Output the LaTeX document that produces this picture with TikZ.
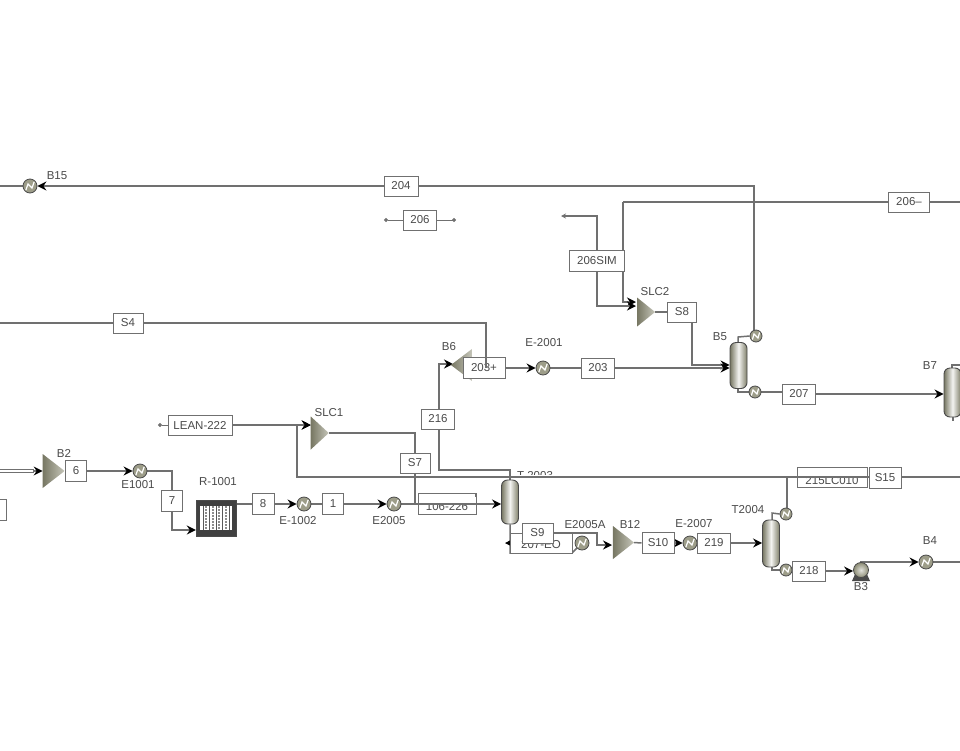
\documentclass[tikz,border=0pt]{standalone}
\usepackage{fontspec}
\setmainfont{Liberation Sans}
\usetikzlibrary{arrows.meta,shapes.geometric,calc}
\pgfdeclarelayer{bg}
\pgfsetlayers{bg,main}
\definecolor{ln}{HTML}{707070}
\definecolor{tx}{HTML}{4A4A4A}
\definecolor{eq}{HTML}{8C8C74}
\tikzset{
  x=1pt,y=-1pt,
  flow/.style={draw=ln,line width=1.5pt,line join=miter},
  arr/.style={flow,-{Stealth[black,length=9pt,width=9pt,inset=3pt]}},
  endl/.style={flow,line width=1pt,-{Circle[ln,length=4pt]}},
  stream/.style={draw=ln,line width=1pt,fill=white,text=tx,minimum height=20pt,minimum width=#1,inner sep=0pt,font=\fontsize{11.5}{13}\selectfont},
  stream/.default=32pt,
  lab/.style={text=tx,inner sep=0pt,font=\fontsize{11.5}{13}\selectfont},
  hx/.style={circle,draw=tx,line width=.8pt,fill=eq!85!white,minimum size=#1,inner sep=0pt,
    path picture={\draw[white,line width=1.2pt]
      ($(path picture bounding box.south west)!.2!(path picture bounding box.north east)$)
      -- ($(path picture bounding box.center)+(-2,-2)$)
      -- ($(path picture bounding box.center)+(2,2)$)
      -- ($(path picture bounding box.south west)!.8!(path picture bounding box.north east)$);}},
  hx/.default=14pt,
  pumpbody/.style={circle,draw=tx,line width=.8pt,inner color=eq!25!white,outer color=eq,minimum size=15pt,inner sep=0pt},
  col/.style={rectangle,rounded corners=6pt,draw=tx,line width=.9pt,left color=eq!85!black,right color=eq!90!black,middle color=eq!10!white,minimum width=#1,inner sep=0pt},
  tri/.style={isosceles triangle,isosceles triangle stretches,draw=none,inner sep=0pt,outer sep=0pt,
    shape border rotate=#1,left color=eq!85!black,right color=eq!50!white},
}
\begin{document}
\begin{tikzpicture}
\useasboundingbox (0,0) rectangle (960,750);

% --- equipment
\node[hx] (B15) at (30,186) {};
\node[lab] (lB15) at (57,176) {B15};
\node[tri=0,minimum height=22pt,minimum width=34pt] (B2) at (51,471) {};
\node[lab] (lB2) at (64,453) {B2};
\node[hx] (E1001) at (140,471) {};
\node[lab] (lE1001) at (138,485) {E1001};
\node[rectangle,draw=tx,fill=black!75,minimum width=40pt,minimum height=36pt,inner sep=0pt,
  path picture={
    \fill[white] (-16,-12) rectangle (16,12);
    \foreach \xa in {-13,-6.5,0,6.5,13}{\draw[black!65,line width=1pt] (\xa,-12) -- (\xa,12);}
    \foreach \xa in {-10,-3.2,3.2,10}{\draw[black!45,line width=2.2pt,dash pattern=on 1.5pt off 1.5pt] (\xa,-12) -- (\xa,12);}
  }] (R1001) at (216,518) {};
\node[lab] (lR1001) at (218,482) {R-1001};
\node[hx] (E1002) at (304,504) {};
\node[lab] (lE1002) at (298,521) {E-1002};
\node[hx] (E2005) at (394,504) {};
\node[lab] (lE2005) at (389,521) {E2005};
\node[tri=0,minimum height=18pt,minimum width=33pt] (SLC1) at (318,433) {};
\node[lab] (lSLC1) at (329,413) {SLC1};
\node[tri=0,minimum height=18pt,minimum width=29pt] (SLC2) at (644,312) {};
\node[lab] (lSLC2) at (655,292) {SLC2};
\node[hx] (E2001) at (543,368) {};
\node[lab] (lE2001) at (544,343) {E-2001};
\node[lab] (lB6) at (449,347) {B6};
\node[tri=180,minimum height=21pt,minimum width=32pt] (B6) at (464,365) {};
\node[col=17pt,minimum height=46pt] (B5) at (738.5,365.5) {};
\node[lab] (lB5) at (720,337) {B5};
\node[hx=12pt] (B5c) at (756,336) {};
\node[hx=12pt] (B5r) at (755,392) {};
\node[col=17pt,minimum height=49pt] (B7) at (952.5,392.5) {};
\node[lab] (lB7) at (930,366) {B7};
\node[lab] (lT2003) at (535,476) {T-2003};
\fill[white] (519,475) rectangle (562,484);
\node[col=17pt,minimum height=44pt] (T2003) at (510,502) {};
\node[hx] (E2005A) at (582,543) {};
\node[lab] (lE2005A) at (585,525) {E2005A};
\node[tri=0,minimum height=21pt,minimum width=33pt] (B12) at (621,542.5) {};
\node[lab] (lB12) at (630,524) {B12};
\node[hx] (E2007) at (690,543) {};
\node[lab] (lE2007) at (694,524) {E-2007};
\node[col=17pt,minimum height=47pt] (T2004) at (771,543.5) {};
\node[lab] (lT2004) at (748,510) {T2004};
\node[hx=12pt] (T4c) at (786,514) {};
\node[hx=12pt] (T4r) at (786,570) {};
\fill[tx] (852,581) -- (870,581) -- (866,572) -- (856,572) -- cycle;
\node[pumpbody] (B3) at (861,570) {};
\node[lab] (lB3) at (861,587) {B3};
\node[hx] (B4) at (926,562) {};
\node[lab] (lB4) at (930,541) {B4};

% --- free ends
\coordinate (wB15) at (0,186);
\coordinate (wS4) at (0,323);
\coordinate (e206m) at (909,202);
\coordinate (eS15) at (960,477);
\coordinate (eB4) at (960,562);
\coordinate (d206l) at (384,220);
\coordinate (d206r) at (456,220);
\coordinate (dSIM) at (561,216);
\coordinate (dLEAN) at (158,425);
\coordinate (wB2) at (0,471);

% --- stream boxes
\node[stream=34pt] (s204) at (401,186) {204};
\node[stream=33pt] (s206) at (420,220) {206};
\node[stream=41pt] (s206m) at (909,202) {206--};
\node[stream=55pt,minimum height=21pt] (s206SIM) at (597,261) {206SIM};
\node[stream=29pt] (sS8) at (682,312) {S8};
\node[stream=30pt] (sS4) at (128,323) {S4};
\node[stream=33pt] (s203) at (598,368) {203};
\node[stream=33pt] (s207) at (799,394) {207};
\node[stream=33pt] (s216) at (438,419) {216};
\node[stream=64pt] (sLEAN) at (200,425) {LEAN-222};
\node[stream=30pt] (sS7) at (415,463) {S7};
\node[stream=21pt,minimum height=21pt] (s6) at (76,471) {6};
\node[stream=21pt,minimum height=21pt] (s7) at (172,501) {7};
\node[stream=22pt,minimum height=21pt] (s8) at (263,504) {8};
\node[stream=21pt,minimum height=21pt] (s1) at (333,504) {1};
\node[stream=21pt,minimum height=21pt] (sLeft) at (-4,510) {};
\node[stream=32pt,minimum height=21pt] (sS10) at (658,543) {S10};
\node[stream=33pt] (s219) at (714,543) {219};
\node[stream=33pt] (s218) at (809,571) {218};
\node[stream=58pt,minimum height=21pt] (s106) at (447,503.5) {};
\node[lab] (t106) at (447,507) {106-226};
\fill[white] (419,494.5) rectangle (475,504);
\draw[ln,line width=1pt] (418.5,497) -- (418.5,493.5) -- (475.5,493.5) -- (475.5,497);
\node[stream=62pt] (s207EO) at (541,543) {};
\node[lab] (t207) at (541,545) {207-EO};
\node[stream=31pt] (sS9) at (537.5,533) {S9};
\node[stream=70pt] (s215) at (832,477) {};
\node[lab] (t215) at (832,481) {215LC010};
\fill[white] (798,468) rectangle (866,478);
\node[stream=42pt,minimum height=21pt] (s203p) at (484,368) {203+};

% --- overlay lines
\draw[flow] (eS15) -- (297,477) -- (297,425);
\draw[arr] (297,425) -- (SLC1.west |- 0,425);
\draw[flow] (sS4.east) -- (486,323) -- (486,368);
\draw[arr] (s106.west |- 0,504) -- (T2003.west |- 0,504);
\node[stream=32pt,minimum height=21pt] (sS15) at (885,478) {S15};

% --- connectors under the boxes
\begin{pgfonlayer}{bg}
\draw[flow] (B15.west) -- (wB15);
\draw[arr] (s204.west) -- (B15.east);
\draw[flow] (754,332) -- (754,186) -- (s204.east);
\draw[endl] (s206.west) -- (d206l);
\draw[endl] (s206.east) -- (d206r);
\draw[flow] (960,202) -- (e206m) -- (623,202);
\draw[arr] (623,202) -- (623,302) -- (636,302);
\draw[flow,-{Stealth[ln,length=5pt,width=5pt]}] (597,252) -- (597,216) -- (dSIM);
\draw[arr] (s206SIM.south -| 597,0) -- (597,306) -- (636,306);
\draw[flow] (SLC2.east) -- (sS8.west);
\draw[arr] (692,322) -- (692,365) -- (B5.west |- 0,365);
\draw[arr] (s203.east) -- (B5.west |- s203.east);
\draw[flow] (E2001.east) -- (s203.west);
\draw[arr] (s203p.east) -- (E2001.west);
\draw[flow] (wS4) -- (sS4.west);
\draw[flow] (738,343) -- (738,337) -- (B5c.west);
\draw[flow] (738,388) -- (738,392) -- (B5r.west);
\draw[flow] (B5r.east) -- (s207.west |- B5r.east);
\draw[arr] (s207.east) -- (B7.west |- s207.east);
\draw[flow] (952,368) -- (952,365) -- (960,365);
\draw[flow] (953,417) -- (953,421);
\draw[arr] (s216.north -| 439,0) -- (439,364) -- (453,364);
\draw[flow] (s216.south -| 439,0) -- (439,470) -- (510,470) -- (T2003.north);
\draw[arr] (sLEAN.east) -- (SLC1.west |- sLEAN.east);
\draw[endl] (sLEAN.west) -- (dLEAN);
\draw[flow] (SLC1.east) -- (415,433) -- (sS7.north);
\draw[flow] (sS7.south) -- (415,504) -- (s106.west |- 0,504);
\draw[draw=ln,double=white,double distance=1.5pt,line width=1pt] (wB2) -- (34,471);
\draw[arr] (33,471) -- (B2.west);
\draw[flow] (B2.east) -- (s6.west);
\draw[arr] (s6.east) -- (E1001.west);
\draw[flow] (E1001.east) -- (172,471) -- (s7.north);
\draw[arr] (s7.south) -- (172,530) -- (R1001.west |- 0,530);
\draw[flow] (R1001.east |- s8.west) -- (s8.west);
\draw[arr] (s8.east) -- (E1002.west);
\draw[flow] (E1002.east) -- (s1.west);
\draw[arr] (s1.east) -- (E2005.west);
\draw[flow] (E2005.east) -- (s106.west |- E2005.east);
\draw[flow] (T2003.south) -- (510,553) -- (572,553) -- (E2005A.south west);
\draw[flow,-{Stealth[black,length=7pt,width=7pt,inset=2pt]}] (s207EO.west) -- (505,543);
\draw[arr] (sS9.east) -- (597,533) -- (597,545) -- (612,545);
\draw[flow] (B12.east) -- (sS10.west);
\draw[arr] (sS10.east) -- (E2007.west);
\draw[flow] (E2007.east) -- (s219.west);
\draw[arr] (s219.east) -- (T2004.west |- s219.east);
\draw[flow] (772,520) -- (772,513) -- (T4c.west);
\draw[flow] (787,508) -- (787,477);
\draw[flow] (772,567) -- (772,570) -- (T4r.west);
\draw[flow] (T4r.east) -- (s218.west |- T4r.east);
\draw[arr] (s218.east) -- (B3.west |- s218.east);
\draw[arr] (B3.north) -- (861,562) -- (B4.west);
\draw[flow] (B4.east) -- (eB4);
\end{pgfonlayer}
\end{tikzpicture}
\end{document}
